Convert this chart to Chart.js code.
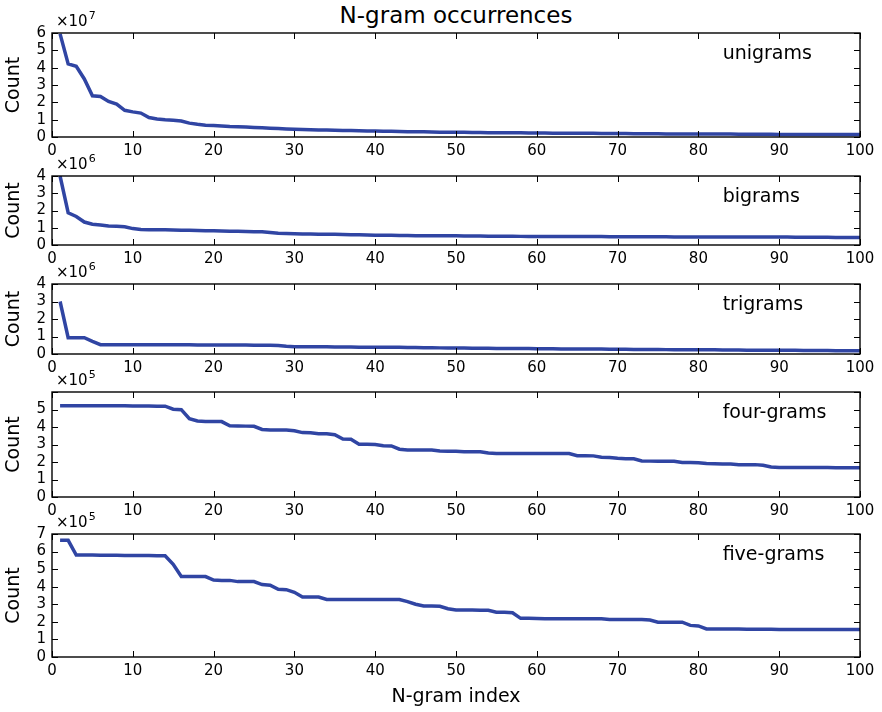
<!DOCTYPE html>
<html>
<head>
<meta charset="utf-8">
<title>N-gram occurrences</title>
<script src="https://cdn.jsdelivr.net/npm/chart.js@4.4.0/dist/chart.umd.min.js"></script>
<style>
  body { margin: 0; background: #fff; }
  #wrap { position: relative; width: 882px; height: 712px; overflow: hidden; font-family: "DejaVu Sans", sans-serif; }
  #title { position: absolute; left: 52px; width: 808px; top: 4px; text-align: center; font-size: 23px; line-height: 23px; color: #000; }
  #wrap canvas { position: absolute; left: 0; }
</style>
</head>
<body>
<div id="wrap">
  <div id="title">N-gram occurrences</div>
</div>
<script>
// counts of the 100 most frequent n-grams, in units of 10^exponent
const panelNames = ["unigrams", "bigrams", "trigrams", "four-grams", "five-grams"];
const exponents = [7, 6, 6, 5, 5];
const yMax = [6, 4, 4, 6, 7];
const yLabelTop = [6, 4, 4, 5, 7];
const xTicks = [0, 10, 20, 30, 40, 50, 60, 70, 80, 90, 100];

const unigrams = [
  5.95, 4.22, 4.08, 3.35, 2.38, 2.34, 2.05, 1.9, 1.54, 1.45,
  1.38, 1.12, 1.04, 0.99, 0.96, 0.92, 0.8, 0.73, 0.68, 0.66,
  0.63, 0.6, 0.59, 0.57, 0.55, 0.53, 0.51, 0.49, 0.46, 0.44,
  0.43, 0.42, 0.41, 0.4, 0.39, 0.38, 0.37, 0.36, 0.35, 0.34,
  0.33, 0.33, 0.32, 0.31, 0.3, 0.3, 0.29, 0.28, 0.28, 0.27,
  0.27, 0.26, 0.26, 0.25, 0.25, 0.25, 0.24, 0.24, 0.23, 0.23,
  0.23, 0.22, 0.22, 0.22, 0.21, 0.21, 0.21, 0.2, 0.2, 0.2,
  0.2, 0.19, 0.19, 0.19, 0.19, 0.18, 0.18, 0.18, 0.18, 0.17,
  0.17, 0.17, 0.17, 0.17, 0.16, 0.16, 0.16, 0.16, 0.16, 0.15,
  0.15, 0.15, 0.15, 0.15, 0.15, 0.14, 0.14, 0.14, 0.14, 0.14,
];

const bigrams = [
  4.0, 1.87, 1.65, 1.33, 1.2, 1.16, 1.1, 1.08, 1.06, 0.95,
  0.9, 0.89, 0.89, 0.88, 0.87, 0.86, 0.85, 0.84, 0.83, 0.82,
  0.81, 0.8, 0.79, 0.78, 0.77, 0.77, 0.72, 0.68, 0.66, 0.65,
  0.64, 0.64, 0.63, 0.63, 0.62, 0.61, 0.6, 0.59, 0.58, 0.57,
  0.56, 0.56, 0.55, 0.55, 0.54, 0.54, 0.54, 0.53, 0.53, 0.53,
  0.52, 0.52, 0.52, 0.51, 0.51, 0.51, 0.51, 0.5, 0.5, 0.5,
  0.5, 0.5, 0.49, 0.49, 0.49, 0.49, 0.49, 0.49, 0.48, 0.48,
  0.48, 0.48, 0.48, 0.48, 0.48, 0.48, 0.47, 0.47, 0.47, 0.47,
  0.47, 0.47, 0.47, 0.47, 0.46, 0.46, 0.46, 0.46, 0.46, 0.46,
  0.46, 0.45, 0.45, 0.45, 0.45, 0.45, 0.44, 0.44, 0.44, 0.44,
];

const trigrams = [
  3.0, 0.93, 0.93, 0.93, 0.72, 0.53, 0.53, 0.53, 0.53, 0.53,
  0.53, 0.53, 0.53, 0.53, 0.53, 0.53, 0.53, 0.52, 0.52, 0.52,
  0.52, 0.52, 0.51, 0.51, 0.5, 0.5, 0.5, 0.49, 0.44, 0.42,
  0.42, 0.41, 0.41, 0.41, 0.4, 0.4, 0.4, 0.39, 0.39, 0.39,
  0.38, 0.38, 0.38, 0.37, 0.37, 0.36, 0.36, 0.35, 0.35, 0.34,
  0.34, 0.33, 0.33, 0.33, 0.32, 0.32, 0.32, 0.31, 0.31, 0.3,
  0.3, 0.3, 0.29, 0.29, 0.29, 0.28, 0.28, 0.28, 0.27, 0.27,
  0.27, 0.26, 0.26, 0.26, 0.26, 0.25, 0.25, 0.25, 0.25, 0.24,
  0.24, 0.24, 0.23, 0.23, 0.23, 0.22, 0.22, 0.22, 0.22, 0.21,
  0.21, 0.21, 0.2, 0.2, 0.2, 0.2, 0.19, 0.19, 0.19, 0.19,
];

const fourgrams = [
  5.22, 5.22, 5.22, 5.22, 5.21, 5.21, 5.21, 5.21, 5.21, 5.2,
  5.2, 5.2, 5.19, 5.19, 5.02, 4.99, 4.47, 4.34, 4.31, 4.31,
  4.31, 4.07, 4.06, 4.05, 4.04, 3.86, 3.83, 3.83, 3.83, 3.79,
  3.68, 3.67, 3.62, 3.61, 3.56, 3.31, 3.3, 3.01, 3.01, 3.0,
  2.93, 2.92, 2.73, 2.69, 2.69, 2.69, 2.68, 2.63, 2.61, 2.61,
  2.59, 2.59, 2.58, 2.51, 2.49, 2.49, 2.49, 2.49, 2.49, 2.49,
  2.49, 2.49, 2.48, 2.48, 2.36, 2.36, 2.35, 2.27, 2.26, 2.21,
  2.19, 2.18, 2.06, 2.05, 2.05, 2.04, 2.04, 1.97, 1.97, 1.96,
  1.91, 1.9, 1.89, 1.88, 1.85, 1.85, 1.85, 1.81, 1.71, 1.69,
  1.68, 1.68, 1.68, 1.68, 1.68, 1.68, 1.67, 1.67, 1.67, 1.67,
];

const fivegrams = [
  6.65, 6.64, 5.8, 5.8, 5.8, 5.79, 5.79, 5.79, 5.78, 5.78,
  5.77, 5.77, 5.76, 5.76, 5.28, 4.58, 4.58, 4.58, 4.58, 4.38,
  4.36, 4.36, 4.29, 4.29, 4.29, 4.12, 4.09, 3.85, 3.83, 3.68,
  3.42, 3.41, 3.41, 3.27, 3.27, 3.27, 3.27, 3.27, 3.27, 3.27,
  3.27, 3.27, 3.27, 3.15, 3.0, 2.9, 2.9, 2.89, 2.75, 2.68,
  2.68, 2.67, 2.66, 2.66, 2.55, 2.54, 2.52, 2.2, 2.2, 2.19,
  2.18, 2.17, 2.17, 2.17, 2.17, 2.17, 2.17, 2.17, 2.14, 2.13,
  2.13, 2.13, 2.13, 2.1, 1.98, 1.98, 1.98, 1.98, 1.8, 1.77,
  1.6, 1.6, 1.59, 1.59, 1.59, 1.58, 1.58, 1.58, 1.58, 1.57,
  1.57, 1.57, 1.57, 1.57, 1.57, 1.57, 1.57, 1.57, 1.57, 1.57,
];

const series = [unigrams, bigrams, trigrams, fourgrams, fivegrams];

// where each axes box sits on the page
const plotTops = [33, 176, 284, 392, 534];
const plotHeights = [104, 69, 70, 105, 123];
const headroom = 24;
const lineColor = "rgb(48, 69, 163)";

Chart.defaults.font.family = "'DejaVu Sans', sans-serif";
Chart.defaults.color = "#000";

// draws the box, inward ticks on all sides, the x10^n multiplier and the panel name
const axesFrame = {
  id: "axesFrame",
  afterDatasetsDraw(chart, args, opts) {
    const { ctx, chartArea: a } = chart;
    const xs = chart.scales.x;
    const ys = chart.scales.y;
    const tick = 6;
    ctx.save();
    ctx.strokeStyle = "#000";
    ctx.lineWidth = 1;
    ctx.beginPath();
    xs.ticks.forEach((t) => {
      const px = Math.round(xs.getPixelForValue(t.value)) + 0.5;
      ctx.moveTo(px, a.bottom);
      ctx.lineTo(px, a.bottom - tick);
      ctx.moveTo(px, a.top);
      ctx.lineTo(px, a.top + tick);
    });
    ys.ticks.forEach((t) => {
      const py = Math.round(ys.getPixelForValue(t.value)) + 0.5;
      ctx.moveTo(a.left, py);
      ctx.lineTo(a.left + tick, py);
      ctx.moveTo(a.right, py);
      ctx.lineTo(a.right - tick, py);
    });
    ctx.stroke();
    ctx.lineWidth = 1.4;
    ctx.strokeRect(a.left, a.top, a.right - a.left, a.bottom - a.top);

    ctx.fillStyle = "#000";
    ctx.textAlign = "left";
    ctx.textBaseline = "alphabetic";
    const base = a.top - 7;
    const x0 = a.left + 4;
    ctx.font = "15px 'DejaVu Sans'";
    ctx.fillText("\u00d710", x0, base);
    const w = ctx.measureText("\u00d710").width;
    ctx.font = "11px 'DejaVu Sans'";
    ctx.fillText(String(opts.exponent), x0 + w + 1, base - 7);

    ctx.font = "19px 'DejaVu Sans'";
    ctx.fillText(opts.name, a.left + 0.83 * (a.right - a.left), a.top + 26);
    ctx.restore();
  },
};

const wrap = document.getElementById("wrap");

series.forEach((values, i) => {
  const last = i === series.length - 1;
  const xAxisHeight = last ? 712 - (plotTops[i] + plotHeights[i]) : 26;
  const canvas = document.createElement("canvas");
  canvas.width = 882;
  canvas.height = headroom + plotHeights[i] + xAxisHeight;
  canvas.style.top = plotTops[i] - headroom + "px";
  wrap.appendChild(canvas);

  const unit = Math.pow(10, exponents[i]);
  const points = values.map((v, k) => ({ x: k + 1, y: v * unit }));

  new Chart(canvas, {
    type: "line",
    data: {
      datasets: [
        {
          label: panelNames[i],
          data: points,
          borderColor: lineColor,
          borderWidth: 3.5,
          pointRadius: 0,
          tension: 0,
          fill: false,
        },
      ],
    },
    options: {
      responsive: false,
      animation: false,
      events: [],
      layout: { padding: { top: headroom, right: 22, left: 0, bottom: 0 } },
      plugins: {
        legend: { display: false },
        tooltip: { enabled: false },
        axesFrame: { name: panelNames[i], exponent: exponents[i] },
      },
      scales: {
        x: {
          type: "linear",
          min: 0,
          max: 100,
          afterBuildTicks: (scale) => {
            scale.ticks = xTicks.map((v) => ({ value: v }));
          },
          afterFit: (scale) => {
            scale.height = xAxisHeight;
          },
          grid: { display: false, drawTicks: false },
          border: { display: false },
          ticks: { autoSkip: false, maxRotation: 0, padding: 5, font: { size: 15 } },
          title: {
            display: last,
            text: "N-gram index",
            font: { size: 19 },
            padding: { top: 0, bottom: 4 },
          },
        },
        y: {
          min: 0,
          max: yMax[i] * unit,
          ticks: {
            stepSize: unit,
            autoSkip: false,
            padding: 6,
            font: { size: 15 },
            callback: (v) => {
              const n = Math.round(v / unit);
              return n > yLabelTop[i] ? "" : String(n);
            },
          },
          afterFit: (scale) => {
            scale.width = 52;
          },
          grid: { display: false, drawTicks: false },
          border: { display: false },
          title: {
            display: true,
            text: "Count",
            font: { size: 19 },
            padding: { top: 3, bottom: 0 },
          },
        },
      },
    },
    plugins: [axesFrame],
  });
});
</script>
</body>
</html>
